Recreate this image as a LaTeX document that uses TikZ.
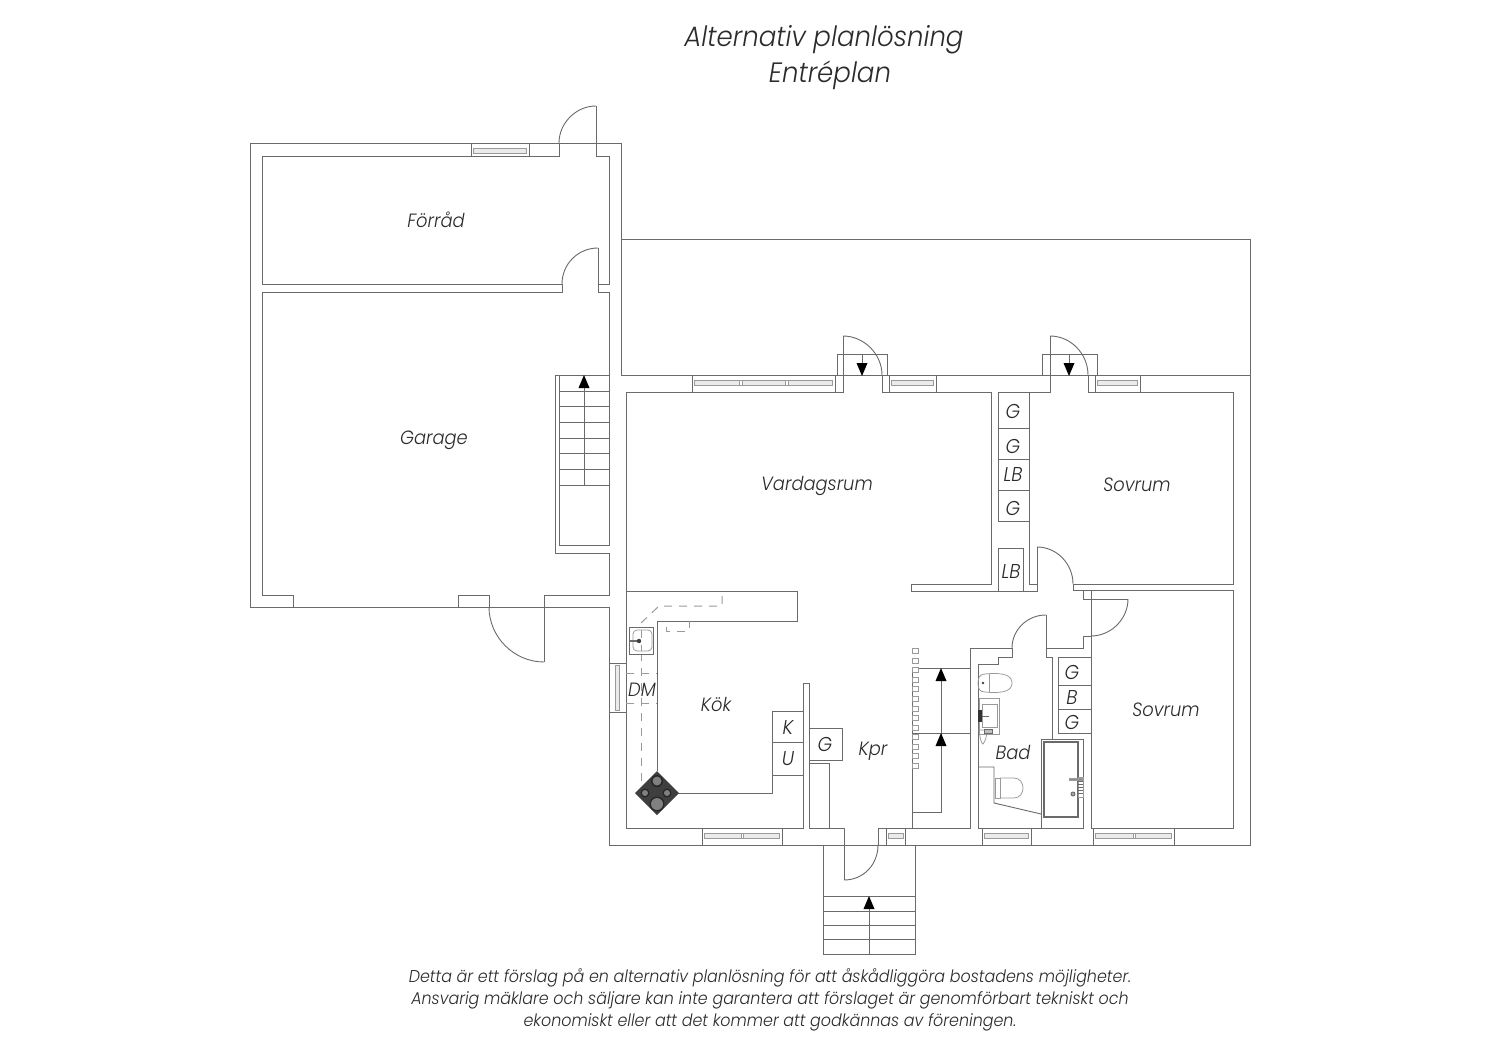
\documentclass[tikz,border=0pt]{standalone}
\usepackage{fontspec}
\setmainfont{Poppins}[ItalicFont=Poppins Light Italic,ItalicFeatures={FakeStretch=0.93}]
\definecolor{wallc}{HTML}{6a6a6a}
\definecolor{inkc}{HTML}{2b2b2b}
\definecolor{thinc}{HTML}{9a9a9a}
\definecolor{hobc}{HTML}{3f3f3f}
\tikzset{
  wall/.style={draw=wallc,line width=0.45pt,line join=miter},
  thinl/.style={draw=thinc,line width=0.38pt},
  dashl/.style={draw=thinc,line width=0.5pt,dash pattern=on 4pt off 3.5pt},
  lab/.style={font=\itshape\fontsize{9.6pt}{12pt}\selectfont,text=inkc,inner sep=0pt},
  slab/.style={font=\itshape\fontsize{10pt}{12pt}\selectfont,text=inkc,inner sep=0pt},
  ttl/.style={font=\itshape\fontsize{14pt}{16pt}\selectfont,text=inkc,inner sep=0pt},
  foot/.style={font=\itshape\fontsize{8.55pt}{11pt}\selectfont,text=inkc,inner sep=0pt},
  headf/.style={fill=black,draw=none}
}
\newcommand{\hwin}[4]{% x1 x2 ytop ybottom
  \draw[wall] (#1,#3) -- (#1,#4) (#2,#3) -- (#2,#4);
  \draw[thinl,fill=black!8] (#1+2.5,#3+5) rectangle (#2-2.5,#3+10);
}
\newcommand{\headup}[2]{\fill[headf] (#1,#2) -- (#1+5.5,#2+13) -- (#1-5.5,#2+13) -- cycle;}
\newcommand{\headdown}[2]{\fill[headf] (#1,#2) -- (#1+5.5,#2-13) -- (#1-5.5,#2-13) -- cycle;}
\begin{document}
\begin{tikzpicture}[x=0.5pt,y=-0.5pt]
\useasboundingbox (0,0) rectangle (1500,1060);
\fill[white] (0,0) rectangle (1500,1060);

% --- Garage / storage block, outer shell
\draw[wall] (609,607) -- (250,607) -- (250,143) -- (621,143) -- (621,375);
\draw[wall] (621,239) -- (1250,239) -- (1250,845) -- (609,845) -- (609,607);
\draw[wall] (621,375) -- (1250,375);

% Forrad room
\draw[wall] (559,143) -- (559,156) -- (262,156) -- (262,284) -- (562,284);
\draw[wall] (596,106) -- (596,156) -- (609,156) -- (609,284) -- (598,284) -- (598,248);
\draw[wall] (559,143) .. controls (559,123) and (576,106) .. (596,106);
\draw[wall] (562,284) .. controls (562,264) and (578,248) .. (598,248);
\hwin{471}{529}{143}{156}

% Garage room
\draw[wall] (562,284) -- (562,292) -- (262,292) -- (262,595) -- (293,595) -- (293,607);
\draw[wall] (598,284) -- (598,292) -- (609,292) -- (609,375);
\draw[wall] (458,607) -- (458,595) -- (489,595) -- (489,607);
\draw[wall] (489,607) .. controls (489,637) and (514,662) .. (544,662);
\draw[wall] (544,662) -- (544,595) -- (609,595) -- (609,553) -- (555,553) -- (555,375) -- (609,375);
% inner stair
\draw[wall] (559,375) -- (559,545) -- (609,545) -- (609,375);
\foreach \yy in {391,406,422,438,453,469,485} {\draw[wall] (559,\yy) -- (609,\yy);}
\draw[wall] (584,485) -- (584,380);
\headup{584}{375}

% --- Main house
% Vardagsrum walls
\draw[wall] (843,336) -- (843,392) -- (626,392) -- (626,828) -- (803,828) -- (803,683) -- (809,683) -- (809,828) -- (829,828) -- (829,763) -- (809,763);
\draw[wall] (882,375) -- (882,392) -- (991,392) -- (991,584) -- (911,584) -- (911,591) -- (998,591);
\draw[wall] (843,336) .. controls (864,336) and (882,354) .. (882,375);
\draw[wall] (837,375) -- (837,354) -- (887,354) -- (887,375);
\draw[wall] (862,354) -- (862,365);
\headdown{862}{376}
% east porch
\draw[wall] (1042,375) -- (1042,354) -- (1097,354) -- (1097,375);
\draw[wall] (1050,336) -- (1050,392) -- (998,392) -- (998,521) -- (1029,521);
\draw[wall] (1088,375) -- (1088,392) -- (1233,392) -- (1233,584) -- (1073,584);
\draw[wall] (1050,336) .. controls (1071,336) and (1088,354) .. (1088,375);
\draw[wall] (1069,354) -- (1069,365);
\headdown{1069}{376}
\draw[wall] (1029,392) -- (1029,584) -- (1037,584);
\foreach \yy in {428,459,490} {\draw[wall] (998,\yy) -- (1029,\yy);}
% LB closet
\draw[wall] (998,591) -- (998,548) -- (1023,548) -- (1023,591);
\draw[wall] (998,591) -- (1037,591) -- (1037,547);
\draw[wall] (1037,547) .. controls (1057,547) and (1073,564) .. (1073,584);
\draw[wall] (1073,584) -- (1073,590) -- (1083,590) -- (1083,599) -- (1128,599);
\draw[wall] (1128,599) .. controls (1128,619) and (1111,636) .. (1091,636);
\draw[wall] (1091,636) -- (1083,636) -- (1083,648) -- (1046,648);
\draw[wall] (1083,590) -- (1233,590) -- (1233,828) -- (1091,828) -- (1091,590);
% bathroom walls
\draw[wall] (1046,615) .. controls (1027,615) and (1012,630) .. (1012,648);
\draw[wall] (1046,615) -- (1046,657) -- (1052,657) -- (1052,739);
\draw[wall] (1012,648) -- (970,648) -- (970,828) -- (912,828);
\draw[wall] (1012,648) -- (1012,657) -- (998,657) -- (998,664) -- (978,664) -- (978,828) -- (1083,828) -- (1083,739) -- (1041,739) -- (1041,828);
\draw[wall] (1058,733) -- (1058,657) -- (1091,657);
\draw[wall] (1058,685) -- (1091,685) (1058,709) -- (1091,709) (1058,733) -- (1091,733);
\draw[wall,line width=0.85pt] (1044,742) rectangle (1078,817);
\draw[wall] (978,767) -- (994,767) -- (994,803) -- (1041,814);
% bath fittings
\draw[thinl,fill=black!45] (1069,778) rectangle (1082,780);
\draw[thinl] (1078,777) rectangle (1083,797);
\foreach \yy in {781,784,787,790,793} {\draw[wall,line width=0.4pt] (1078,\yy) -- (1083,\yy);}
\draw[wall,fill=black!35] (1073,794) circle (2);
% upper toilet
\draw[thinl] (985,674) .. controls (1005,672) and (1012,676) .. (1012,683) .. controls (1012,690) and (1005,694) .. (985,692);
\draw[thinl] (989,674) -- (989,692);
\draw[thinl] (985,674) .. controls (979,674) and (978,679) .. (978,683) .. controls (978,688) and (979,692) .. (985,692);
\fill[hobc] (983,683) circle (1.3);
% basin
\draw[thinl] (979,698) rectangle (999,734);
\draw[thinl] (982,704) rectangle (997,727);
\fill[black!80] (978,710) rectangle (982,722);
\draw[wall,line width=0.35pt] (982,716) -- (989,716);
\draw[thinl] (979,730) .. controls (980,740) and (982,744) .. (983,744) .. controls (985,742) and (987,736) .. (987,730) -- cycle;
\draw[wall,line width=0.35pt,fill=black!25] (984,729) rectangle (992,733);
% lower toilet
\draw[thinl] (995,778) rectangle (1000,798);
\draw[thinl] (1000,778) -- (1014,778) .. controls (1020,778) and (1023,783) .. (1023,788) .. controls (1023,793) and (1020,798) .. (1014,798) -- (1000,798);

% Kitchen
\draw[wall] (626,591) -- (797,591) -- (797,621) -- (657,621) -- (657,771);
\draw[wall] (677,793) -- (772,793) -- (772,711) -- (803,711);
\draw[wall] (772,742) -- (803,742);
\draw[wall] (772,775) -- (803,775);
\draw[dashl] (641,623) -- (659,606) -- (722,606) -- (722,591);
\draw[dashl] (666,627) -- (666,631) -- (689,631) -- (689,621);
\draw[dashl] (641,653) -- (641,783);
\draw[dashl] (626,673) -- (657,673);
\draw[dashl] (626,703) -- (657,703);
% sink
\draw[wall,fill=white] (629,627) rectangle (653,654);
\draw[thinl,rounded corners=2pt] (633,630) rectangle (652,651);
\draw[dashl] (641,630) -- (641,651);
\draw[wall,line width=0.85pt] (630,641) -- (639,641);
\fill[hobc] (639,641) circle (2.2);
% hob
\fill[hobc] (657,771) -- (679,793) -- (657,815) -- (635,793) -- cycle;
\foreach \xx/\yy/\rr in {657/781/6,657/804/7.5,645/793/4.5,667/793/4.5} {
  \fill[black!85] (\xx,\yy) circle (\rr);
  \fill[black!50] (\xx,\yy) circle (\rr-1.5);
}
% G cupboard, Kpr
\draw[wall] (809,728) -- (842,728) -- (842,760) -- (809,760);
\draw[wall] (844,828) -- (844,880);
\draw[wall] (844,880) .. controls (864,880) and (878,864) .. (878,845);
\draw[wall] (878,845) -- (878,828) -- (905,828);
\draw[wall] (905,828) -- (905,845) (886,828) -- (886,845);
\draw[wall] (844,828) -- (809,828);
\draw[wall] (905,828) -- (912,828);
\draw[thinl,fill=black!8] (888,833) rectangle (903,838);
% interior stairs
\draw[wall] (912,828) -- (912,668);
\draw[wall] (912,668) -- (970,668) (912,733) -- (970,733);
\draw[wall] (912,812) -- (941,812) -- (941,675);
\headup{941}{668}
\headup{941}{733}
\foreach \yy in {651,661,670,680,689,699,709,718,728,737,747,756,766} {
  \draw[thinl,fill=white] (912,\yy-2.5) rectangle (918,\yy+2.5);
}
% entry stairs
\draw[wall] (823,845) -- (823,954) -- (915,954) -- (915,845);
\foreach \yy in {896,911,925,939} {\draw[wall] (823,\yy) -- (915,\yy);}
\draw[wall] (869,900) -- (869,954);
\headup{869}{896}

% Windows on the main house
\hwin{692}{835}{375}{392}
\foreach \xx in {741,787} {\draw[thinl,fill=white] (\xx-1.5,380) rectangle (\xx+1.5,385);}
\hwin{889}{936}{375}{392}
\hwin{1095}{1140}{375}{392}
\hwin{702}{782}{828}{845}
\draw[thinl,fill=white] (741,833) rectangle (743,838);
\hwin{982}{1031}{828}{845}
\hwin{1093}{1174}{828}{845}
\draw[thinl,fill=white] (1133,833) rectangle (1135,838);
% west window
\draw[wall] (609,663) -- (626,663) (609,712) -- (626,712);
\draw[thinl,fill=black!8] (615,665) rectangle (619,710);

% --- Labels
\node[ttl] (t1) at (824,40) {Alternativ planlösning};
\node[ttl] (t2) at (830,75) {Entréplan};
\node[lab] (forrad) at (436,220) {Förråd};
\node[lab] (garage) at (434,440) {Garage};
\node[lab] (vard) at (817,486) {Vardagsrum};
\node[lab] (sov1) at (1137,485) {Sovrum};
\node[lab] (sov2) at (1166,710) {Sovrum};
\node[lab] (kok) at (716,704) {Kök};
\node[lab] (dm) at (642,690) {DM};
\node[lab] (kpr) at (873,751) {Kpr};
\node[lab] (bad) at (1013,752) {Bad};
\node[slab] (k) at (788,728) {K};
\node[slab] (u) at (788,759) {U};
\node[slab] (g0) at (825,744) {G};
\node[slab] (g1) at (1013,411) {G};
\node[slab] (g2) at (1013,446) {G};
\node[slab] (lb1) at (1013,475) {LB};
\node[slab] (g3) at (1013,508) {G};
\node[slab] (lb2) at (1011,572) {LB};
\node[slab] (g4) at (1072,672) {G};
\node[slab] (b1) at (1072,698) {B};
\node[slab] (g5) at (1072,722) {G};
\node[foot] (f1) at (770,978) {Detta är ett förslag på en alternativ planlösning för att åskådliggöra bostadens möjligheter.};
\node[foot] (f2) at (770,1000) {Ansvarig mäklare och säljare kan inte garantera att förslaget är genomförbart tekniskt och};
\node[foot] (f3) at (770,1022) {ekonomiskt eller att det kommer att godkännas av föreningen.};
\end{tikzpicture}
\end{document}
